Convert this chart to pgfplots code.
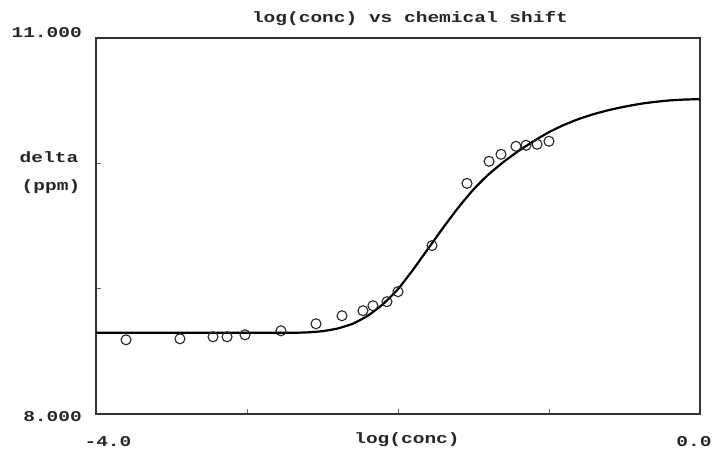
\documentclass[border=0pt]{standalone}
\usepackage{pgfplots}
\pgfplotsset{compat=1.18}
\usepackage{fontspec}
\newfontfamily\pixfont[FakeStretch=1.3]{Liberation Mono}
\begin{document}
\begin{tikzpicture}[x=1pt,y=1pt]
\path[use as bounding box] (0,0) rectangle (715,450);
\begin{axis}[
  at={(96pt,36pt)}, anchor=south west,
  scale only axis, width=604pt, height=376pt,
  xmin=-4, xmax=0, ymin=8, ymax=11,
  axis line style={line width=1.6pt, black!80},
  xtick={-3,-2,-1}, ytick={9,10},
  xticklabels={}, yticklabels={},
  tick align=inside, major tick length=5pt,
  tick style={line width=1pt, black!60},
  xtick pos=bottom, ytick pos=left,
  clip=false,
]
\addplot[line width=2.2pt, black, smooth, tension=0.3] coordinates {
(-4.0,8.648) (-3.5,8.648) (-3.0,8.648) (-2.9,8.648) (-2.8,8.648)
(-2.7,8.648) (-2.6,8.651) (-2.5,8.661) (-2.4,8.682) (-2.3,8.720)
(-2.2,8.784) (-2.1,8.876) (-2.0,8.996) (-1.9,9.152) (-1.8,9.320)
(-1.7,9.488) (-1.6,9.648) (-1.5,9.792) (-1.4,9.912) (-1.3,10.012)
(-1.2,10.100) (-1.1,10.178) (-1.0,10.249) (-0.9,10.307) (-0.8,10.355)
(-0.7,10.394) (-0.6,10.426) (-0.5,10.452) (-0.4,10.474) (-0.3,10.490)
(-0.2,10.502) (-0.1,10.509) (0.0,10.512)
};
\addplot[only marks, mark=o, mark size=5pt, mark options={line width=1.1pt, black!85}] coordinates {
(-3.801,8.592) (-3.444,8.600) (-3.225,8.616) (-3.132,8.616) (-3.013,8.632)
(-2.775,8.664) (-2.543,8.720) (-2.371,8.784) (-2.232,8.824) (-2.166,8.864)
(-2.073,8.896) (-2.000,8.976) (-1.775,9.344) (-1.543,9.840) (-1.397,10.016)
(-1.318,10.072) (-1.219,10.136) (-1.152,10.144) (-1.079,10.152) (-1.000,10.176)
};
\end{axis}
\begin{scope}[every node/.style={font=\pixfont\bfseries\fontsize{15}{15}\selectfont, text=black!85, inner sep=0pt}]
\node at (410,431) {log(conc) vs chemical shift};
\node at (407,10) {log(conc)};
\node[anchor=east] at (82,417) {11.000};
\node[anchor=east] at (82,33) {8.000};
\node at (108,8) {-4.0};
\node at (694,8) {0.0};
\node at (49,293) {delta};
\node at (51,263) {(ppm)};
\end{scope}
\end{tikzpicture}
\end{document}
